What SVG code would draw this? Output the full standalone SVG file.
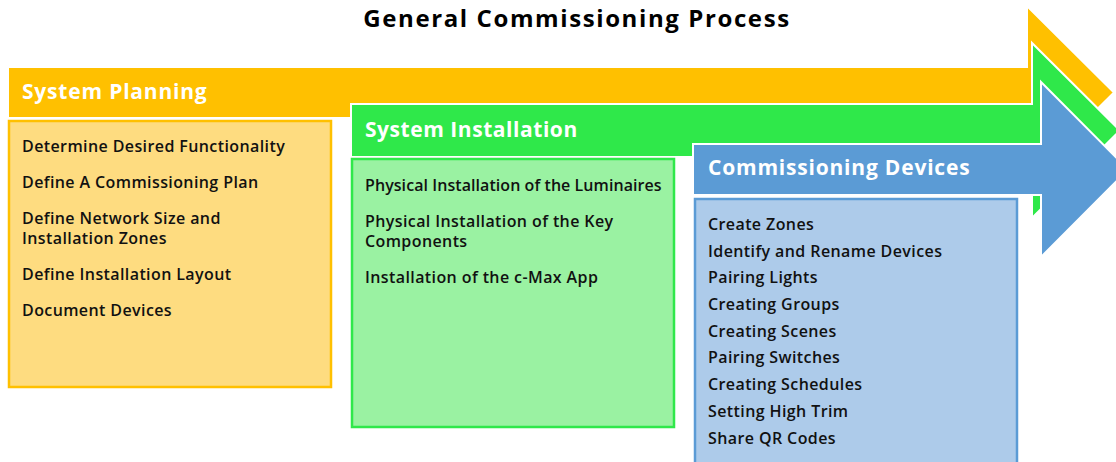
<svg xmlns="http://www.w3.org/2000/svg" width="1116" height="462" viewBox="0 0 1116 462">
<style>
.title{font-family:"Open Sans","Liberation Sans",sans-serif;font-weight:700;font-size:24px;letter-spacing:1.6px;fill:#000}
.hdr{font-family:"Open Sans","Liberation Sans",sans-serif;font-weight:700;font-size:21px;letter-spacing:0.8px;fill:#fff}
.item{font-family:"Open Sans","Liberation Sans",sans-serif;font-weight:600;font-size:16px;letter-spacing:0.4px;fill:#111}
.arrow{stroke:#fff;stroke-width:2}
</style>
<rect width="1116" height="462" fill="#fff"/>
<text class="title" x="577" y="27" text-anchor="middle">General Commissioning Process</text>
<g id="planning">
<path class="arrow" fill="#FFC000" d="M8,67 H1027 V6 L1114,92.5 L1027,179 V118 H8 Z"/>
<rect x="9" y="121" width="322" height="266" fill="#FEDC80" stroke="#FFC000" stroke-width="2.5"/>
<text class="hdr" x="22" y="99">System Planning</text>
<text class="item" x="22" y="152">Determine Desired Functionality</text>
<text class="item" x="22" y="188">Define A Commissioning Plan</text>
<text class="item" x="22" y="224">Define Network Size and</text>
<text class="item" x="22" y="244">Installation Zones</text>
<text class="item" x="22" y="280">Define Installation Layout</text>
<text class="item" x="22" y="316">Document Devices</text>
</g>
<g id="installation">
<path class="arrow" fill="#2FE84A" d="M351,104 H1032 V43 L1120,130.5 L1032,218 V157 H351 Z"/>
<rect x="352" y="159" width="322" height="268" fill="#9AF2A2" stroke="#2FE84A" stroke-width="2.5"/>
<text class="hdr" x="365" y="137" textLength="213">System Installation</text>
<text class="item" x="365" y="191" textLength="297">Physical Installation of the Luminaires</text>
<text class="item" x="365" y="227">Physical Installation of the Key</text>
<text class="item" x="365" y="247">Components</text>
<text class="item" x="365" y="283">Installation of the c-Max App</text>
</g>
<g id="commissioning">
<path class="arrow" fill="#5B9BD5" d="M693,144 H1041 V82 L1128,169.5 L1041,257 V195 H693 Z"/>
<rect x="695" y="199" width="322" height="270" fill="#ADCBEA" stroke="#5B9BD5" stroke-width="2.5"/>
<text class="hdr" x="708" y="175">Commissioning Devices</text>
<text class="item" x="708" y="230">Create Zones</text>
<text class="item" x="708" y="257">Identify and Rename Devices</text>
<text class="item" x="708" y="283">Pairing Lights</text>
<text class="item" x="708" y="310">Creating Groups</text>
<text class="item" x="708" y="337">Creating Scenes</text>
<text class="item" x="708" y="363">Pairing Switches</text>
<text class="item" x="708" y="390">Creating Schedules</text>
<text class="item" x="708" y="417">Setting High Trim</text>
<text class="item" x="708" y="444">Share QR Codes</text>
</g>
<g id="connectors"></g>
</svg>
